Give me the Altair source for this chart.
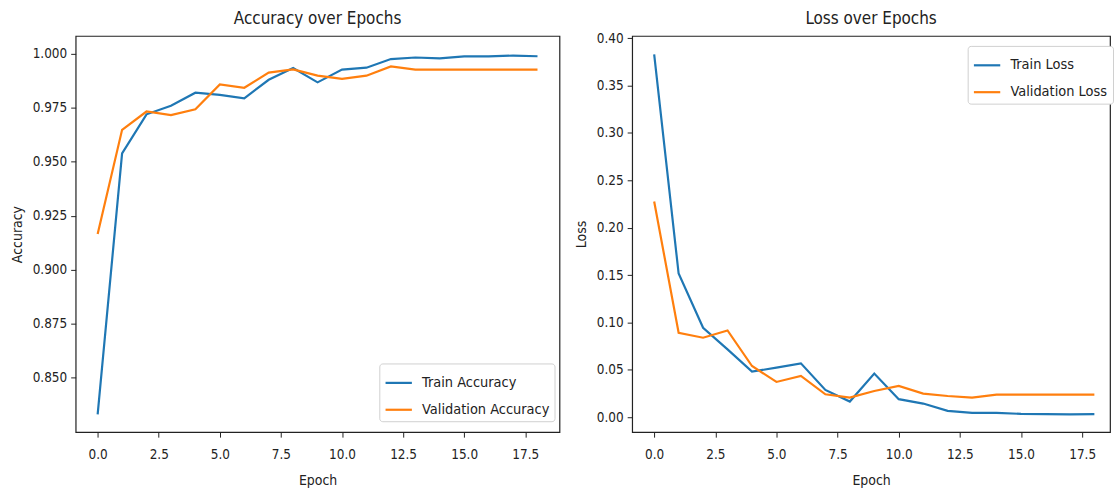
import altair as alt
import pandas as pd

epochs = list(range(19))
train_acc = [0.833, 0.9539, 0.972, 0.976, 0.982, 0.981, 0.9794, 0.988, 0.9934, 0.9868,
             0.9927, 0.9936, 0.9976, 0.9983, 0.9979, 0.9988, 0.9988, 0.9992, 0.9989]
val_acc = [0.9166, 0.9648, 0.9733, 0.9716, 0.9743, 0.9858, 0.9843, 0.9913, 0.9928, 0.9899,
           0.9884, 0.9899, 0.9942, 0.9927, 0.9927, 0.9927, 0.9927, 0.9927, 0.9927]
train_loss = [0.383, 0.1516, 0.0944, 0.0716, 0.0481, 0.0523, 0.0568, 0.0288, 0.0165, 0.046,
              0.019, 0.0144, 0.0067, 0.0046, 0.0046, 0.0035, 0.0033, 0.003, 0.0032]
val_loss = [0.2277, 0.0891, 0.0839, 0.0916, 0.054, 0.0372, 0.0435, 0.0242, 0.0207, 0.0277,
            0.033, 0.0249, 0.0224, 0.0207, 0.0239, 0.0239, 0.0239, 0.0239, 0.0239]

acc_names = ["Train Accuracy", "Validation Accuracy"]
loss_names = ["Train Loss", "Validation Loss"]
x_ticks = [0, 2.5, 5, 7.5, 10, 12.5, 15, 17.5]
acc_ticks = [0.85, 0.875, 0.9, 0.925, 0.95, 0.975, 1.0]
loss_ticks = [0, 0.05, 0.1, 0.15, 0.2, 0.25, 0.3, 0.35, 0.4]
colors = ["#1f77b4", "#ff7f0e"]

FONT = "DejaVu Sans Condensed, DejaVu Sans"

acc_df = pd.DataFrame({
    "Epoch": epochs * 2,
    "value": train_acc + val_acc,
    "series": [acc_names[0]] * len(epochs) + [acc_names[1]] * len(epochs),
})
loss_df = pd.DataFrame({
    "Epoch": epochs * 2,
    "value": train_loss + val_loss,
    "series": [loss_names[0]] * len(epochs) + [loss_names[1]] * len(epochs),
})


def panel(df, names, title, ytitle, ydomain, yticks, yfmt, xdomain, width, lx, ly, tdy):
    return alt.Chart(df).mark_line(strokeWidth=2.2, clip=True).encode(
        x=alt.X("Epoch:Q",
                scale=alt.Scale(domain=xdomain, nice=False, zero=False),
                axis=alt.Axis(values=x_ticks, format=".1f", title="Epoch")),
        y=alt.Y("value:Q",
                scale=alt.Scale(domain=ydomain, nice=False, zero=False),
                axis=alt.Axis(values=yticks, format=yfmt, title=ytitle)),
        color=alt.Color("series:N",
                        scale=alt.Scale(domain=names, range=colors),
                        legend=alt.Legend(title=None, orient="none",
                                          legendX=lx, legendY=ly,
                                          symbolType="stroke", symbolSize=700,
                                          symbolStrokeWidth=2.2, labelFontSize=14.5,
                                          labelFont=FONT, labelColor="#222",
                                          padding=5, rowPadding=6, labelOffset=9,
                                          strokeColor="#d0d0d0", fillColor="white",
                                          cornerRadius=3)),
    ).properties(width=width, height=398,
                 title=alt.TitleParams(title, frame="group", dy=tdy))


left = panel(acc_df, acc_names, "Accuracy over Epochs", "Accuracy",
             [0.8248, 1.0083], acc_ticks, ".3f", [-0.9, 18.9], 486, 305, 329, 0)
right = panel(loss_df, loss_names, "Loss over Epochs", "Loss",
              [-0.0158, 0.4024], loss_ticks, ".2f", [-0.9, 18.64], 480, 337, 10, 5)

chart = alt.hconcat(left, right, spacing=13).resolve_scale(color="independent").configure(
    padding={"left": 9, "top": 8, "right": 0, "bottom": 0},
    font=FONT,
).configure_view(
    stroke="#222", strokeWidth=1.2
).configure_axis(
    grid=False, domain=False, tickColor="#222", tickSize=5, tickWidth=1,
    labelFont=FONT, labelFontSize=13.5, labelColor="#222", labelPadding=4,
    titleFont=FONT, titleFontSize=14, titleFontWeight="normal", titleColor="#222",
    titlePadding=8,
).configure_axisX(
    labelPadding=10, titlePadding=13,
).configure_title(
    font=FONT, fontSize=17, fontWeight="normal", color="#222", offset=8,
)

chart.save("out.html", embed_options={"renderer": "svg", "actions": False})
